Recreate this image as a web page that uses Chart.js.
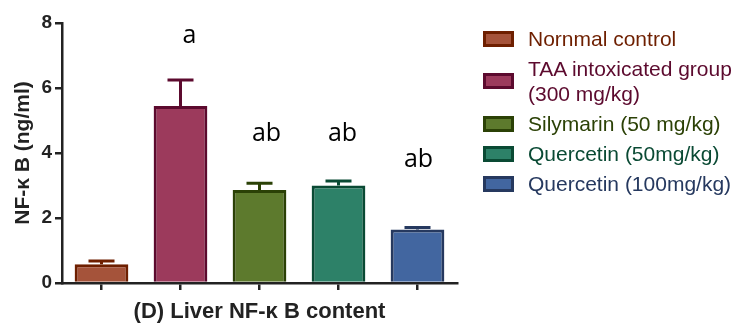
<!DOCTYPE html>
<html lang="en">
<head>
<meta charset="UTF-8">
<title>Liver NF-κB content</title>
<script src="https://cdn.jsdelivr.net/npm/chart.js"></script>
<style>
  body { margin: 0; background: #fff; }
  .wrap { position: relative; width: 740px; height: 325px; }
  #grafico { position: absolute; left: 0; top: 0; }
  .legenda { position: absolute; left: 483px; top: 26px; font-family: "Liberation Sans", Arial, sans-serif; font-size: 21px; white-space: nowrap; }
  .item { position: relative; padding-left: 45px; line-height: 25px; margin-bottom: 5px; }
  .item .caixa { position: absolute; left: 0; width: 25px; height: 10px; border: 3px solid; top: 50%; margin-top: -8px; }
</style>
</head>
<body>
<div class="wrap">
  <canvas id="grafico" width="740" height="325"></canvas>
  <div class="legenda" id="legenda"></div>
</div>

<script>
// dados
const grupos = ['Nornmal control', 'TAA intoxicated group\n(300 mg/kg)', 'Silymarin (50 mg/kg)', 'Quercetin (50mg/kg)', 'Quercetin (100mg/kg)'];
const medias = [0.58, 5.45, 2.86, 3.0, 1.65];
const erros = [0.10, 0.80, 0.21, 0.14, 0.06];
const letras = ['', 'a', 'ab', 'ab', 'ab'];
const letrasY = [0, 7.6, 4.58, 4.58, 3.78];
const ticksY = [0, 2, 4, 6, 8];

const preenchimento = ['#a5533a', '#9c3a5c', '#5d7a2d', '#2d8168', '#4266a0'];
const bordas = ['#6e1f00', '#5c0a2e', '#2b4106', '#0a4a34', '#26395f'];

// deslocamento horizontal das letras (px)
const desloc = [0, 9, 7, 4, 1];

// plugin para barras de erro (so a parte de cima) e letras
const extras = {
  id: 'extras',
  afterDatasetsDraw(chart) {
    const ctx = chart.ctx;
    const y = chart.scales.y;
    const meta = chart.getDatasetMeta(0);
    meta.data.forEach(function (bar, i) {
      const topo = y.getPixelForValue(medias[i] + erros[i]);
      const base = y.getPixelForValue(medias[i]);
      ctx.save();
      ctx.strokeStyle = bordas[i];
      ctx.lineWidth = 3;
      ctx.beginPath();
      ctx.moveTo(bar.x, base);
      ctx.lineTo(bar.x, topo);
      ctx.moveTo(bar.x - 13, topo);
      ctx.lineTo(bar.x + 13, topo);
      ctx.stroke();
      if (letras[i]) {
        ctx.fillStyle = '#000';
        ctx.font = '25px "Open Sans", sans-serif';
        ctx.textAlign = 'center';
        ctx.textBaseline = 'middle';
        ctx.fillText(letras[i], bar.x + desloc[i], y.getPixelForValue(letrasY[i]));
      }
      ctx.restore();
    });
  }
};

const grafico = new Chart(document.getElementById('grafico'), {
  type: 'bar',
  data: {
    labels: grupos,
    datasets: [{
      data: medias,
      backgroundColor: preenchimento,
      borderColor: bordas,
      borderWidth: 3,
      borderSkipped: 'bottom',
      categoryPercentage: 1,
      barPercentage: 0.68
    }]
  },
  options: {
    responsive: false,
    animation: false,
    layout: { padding: { top: 23, right: 283, left: 0, bottom: 0 } },
    plugins: { legend: { display: false }, tooltip: { enabled: false } },
    scales: {
      x: {
        grid: { offset: false, drawOnChartArea: false, color: '#222', lineWidth: 2.5, tickLength: 7 },
        border: { color: '#222', width: 2.5 },
        ticks: { callback: () => '', padding: 0 },
        title: {
          display: true,
          text: '(D) Liver NF-κ B content',
          color: '#222',
          font: { family: '"Liberation Sans", Arial', size: 22, weight: 'bold' },
          padding: { top: 7, bottom: 0 }
        },
        afterFit(s) { s.height = 42; }
      },
      y: {
        min: 0,
        max: 8,
        afterBuildTicks(s) { s.ticks = ticksY.map(v => ({ value: v })); },
        grid: { drawOnChartArea: false, color: '#222', lineWidth: 2.5, tickLength: 7 },
        border: { color: '#222', width: 2.5 },
        ticks: {
          color: '#222',
          padding: 3,
          font: { family: '"Liberation Sans", Arial', size: 19, weight: 'bold' }
        },
        title: {
          display: true,
          text: 'NF-κ B (ng/ml)',
          color: '#222',
          font: { family: '"Liberation Sans", Arial', size: 21, weight: 'bold' },
          padding: { top: 11, bottom: 4 }
        },
        afterFit(s) { s.width = 62; }
      }
    }
  },
  plugins: [extras]
});

// legenda em html
const legenda = document.getElementById('legenda');
grupos.forEach(function (g, i) {
  const div = document.createElement('div');
  div.className = 'item';
  div.style.color = bordas[i];
  div.innerHTML = '<span class="caixa" style="background:' + preenchimento[i] + ';border-color:' + bordas[i] + '"></span>' + g.replace('\n', '<br>');
  legenda.appendChild(div);
});
</script>
</body>
</html>
